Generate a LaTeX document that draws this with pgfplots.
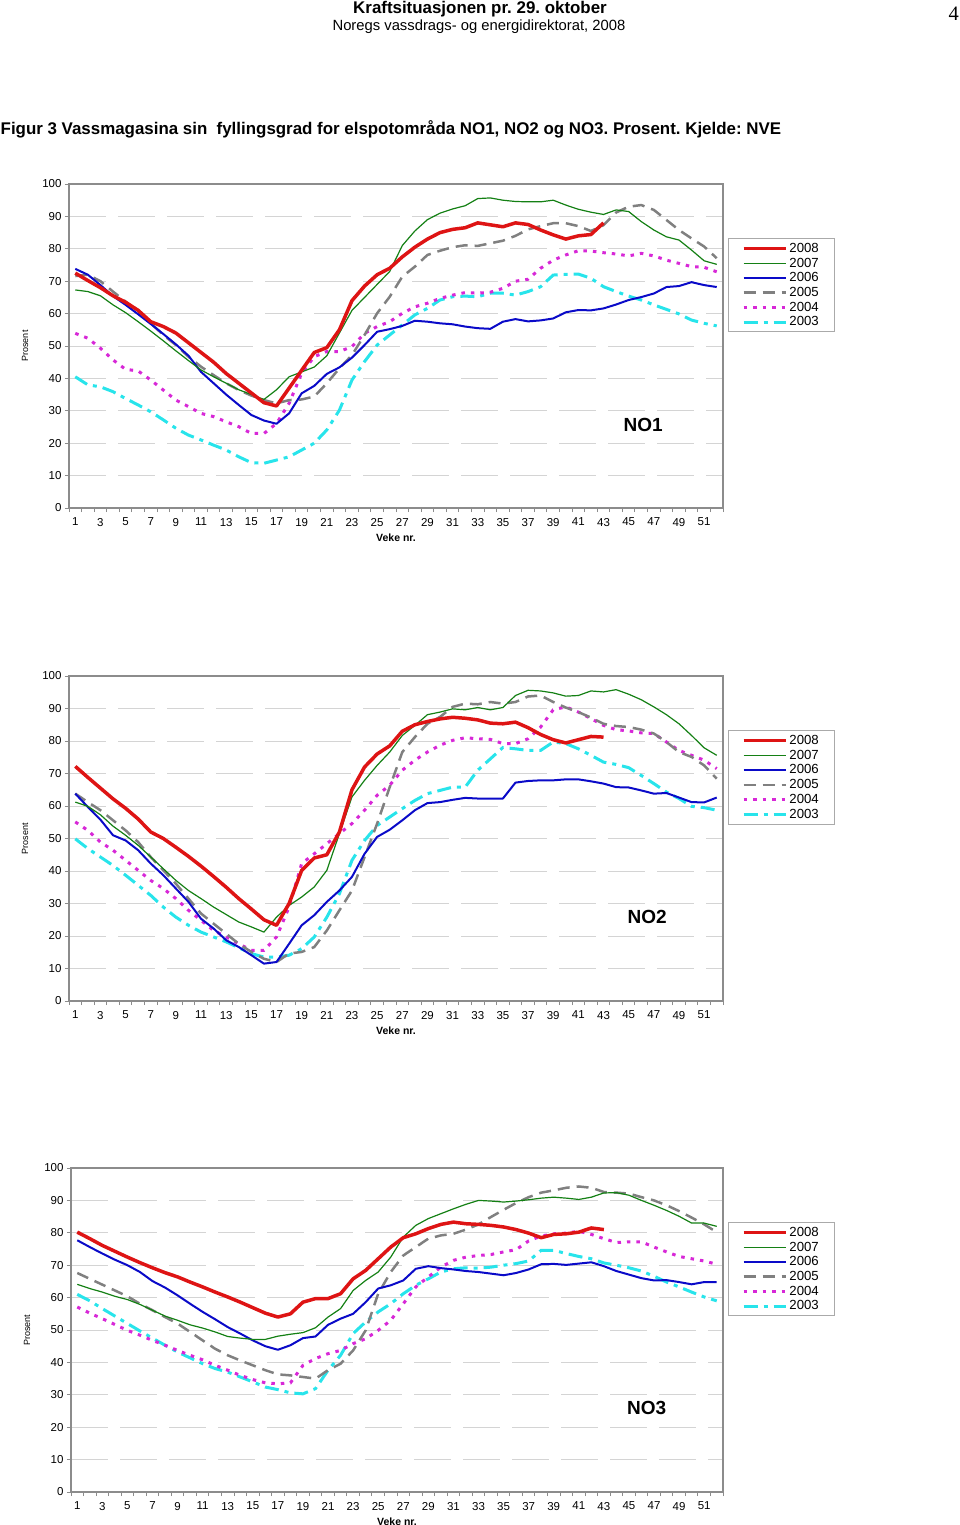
\documentclass[border=0pt]{standalone}
\usepackage{fontspec}
\setmainfont{Liberation Sans}
\newfontfamily\seriffont{Liberation Serif}
\usepackage{pgfplots}
\usepackage{pgfplotstable}
\pgfplotsset{compat=1.18}

\definecolor{c08}{RGB}{222,20,20}
\definecolor{c07}{RGB}{20,128,20}
\definecolor{c06}{RGB}{10,10,200}
\definecolor{c05}{RGB}{128,128,128}
\definecolor{c04}{RGB}{215,40,215}
\definecolor{c03}{RGB}{40,228,235}
\definecolor{axgray}{RGB}{140,140,140}
\definecolor{gridgray}{RGB}{212,212,212}
\definecolor{leggray}{RGB}{170,170,170}

\pgfplotstableread{
w y08 y07 y06 y05 y04 y03
1 72.5 67.3 73.8 71.6 53.9 40.5
2 70.2 66.8 72.0 72.0 52.4 38.0
3 68.0 65.5 68.8 70.0 49.3 37.4
4 65.5 62.7 65.4 66.8 45.7 35.9
5 63.5 60.3 62.7 63.7 42.8 33.8
6 61.0 57.5 59.8 60.6 42.3 31.8
7 57.5 54.6 56.8 57.0 39.5 29.7
8 56.0 51.6 53.7 53.4 36.4 27.2
9 54.0 48.5 50.5 50.3 33.3 24.6
10 51.0 45.5 47.0 46.7 31.3 22.5
11 48.0 42.6 42.0 43.6 29.2 21.0
12 45.0 40.5 38.5 41.0 28.2 19.4
13 41.5 38.5 35.0 38.5 26.6 17.9
14 38.5 36.5 31.8 36.4 25.1 15.8
15 35.5 35.0 28.7 34.7 23.0 14.0
16 32.5 33.5 27.0 33.3 23.0 13.8
17 31.5 36.5 26.0 32.3 26.1 14.8
18 37.0 40.5 29.2 33.3 32.3 15.8
19 42.5 42.0 35.4 33.5 41.6 17.9
20 48.0 43.5 37.7 34.4 46.7 20.0
21 49.5 47.0 41.4 38.5 48.3 24.1
22 55.0 54.0 43.4 43.1 48.3 30.2
23 64.0 61.0 46.4 47.2 49.8 39.5
24 68.5 65.0 50.3 53.4 53.9 45.2
25 72.0 69.0 54.4 60.1 56.0 50.3
26 74.0 73.0 55.2 65.2 57.5 53.4
27 77.5 81.0 56.2 71.4 60.1 56.5
28 80.5 85.5 57.8 74.5 62.1 59.6
29 83.0 89.0 57.5 78.1 63.2 61.6
30 85.0 91.0 57.0 79.4 64.7 64.2
31 86.0 92.3 56.7 80.5 65.7 65.2
32 86.5 93.3 56.0 81.1 66.5 65.4
33 88.0 95.5 55.5 80.9 66.3 65.2
34 87.4 95.7 55.3 81.7 66.6 66.3
35 86.8 95.0 57.5 82.5 67.8 66.3
36 88.0 94.6 58.3 84.0 70.0 65.7
37 87.5 94.5 57.6 86.0 70.6 66.8
38 85.8 94.5 57.9 87.0 74.0 68.3
39 84.3 95.0 58.5 87.9 76.5 71.9
40 83.0 93.5 60.4 87.9 78.1 72.1
41 84.0 92.2 61.1 87.0 79.4 72.2
42 84.4 91.3 61.0 85.5 79.3 70.9
43 88.0 90.6 61.6 87.3 78.8 68.3
44 nan 92.0 62.8 91.2 78.4 66.8
45 nan 91.5 64.2 93.0 77.8 65.4
46 nan 88.4 65.1 93.5 78.6 64.2
47 nan 85.8 66.2 92.0 77.8 62.7
48 nan 83.7 68.2 88.9 76.5 61.3
49 nan 82.7 68.5 85.8 75.5 59.9
50 nan 79.6 69.7 83.2 74.5 58.0
51 nan 76.3 68.8 80.7 74.3 57.0
52 nan 75.2 68.2 77.1 72.9 56.2
}\tabNOone

\pgfplotstableread{
w y08 y07 y06 y05 y04 y03
1 72.2 61.2 63.8 63.8 55.1 49.9
2 68.8 59.9 59.7 61.2 52.5 46.9
3 65.5 57.3 55.8 58.7 48.9 44.3
4 62.2 53.8 51.0 55.6 46.4 41.7
5 59.3 51.0 49.4 52.5 43.3 38.7
6 56.0 47.9 46.4 48.9 40.2 35.6
7 52.0 44.3 42.3 44.3 37.1 32.5
8 50.0 40.7 38.7 40.2 34.6 28.9
9 47.3 37.1 34.6 36.1 31.5 25.8
10 44.5 34.0 30.5 31.5 27.9 23.3
11 41.5 31.5 25.3 26.9 24.8 21.2
12 38.3 28.9 22.3 23.8 21.7 19.7
13 35.0 26.6 18.7 20.7 19.7 18.2
14 31.5 24.3 16.6 17.6 17.6 16.4
15 28.3 22.8 14.1 15.1 15.6 14.6
16 25.0 21.2 11.5 13.0 15.6 13.5
17 23.3 25.8 12.0 12.0 19.7 13.5
18 30.0 29.4 17.6 14.6 28.9 14.1
19 40.2 32.0 23.3 15.1 42.3 16.1
20 44.0 35.1 26.4 16.6 45.3 19.7
21 45.0 40.2 30.5 21.7 48.4 25.8
22 52.0 51.5 34.0 27.9 51.5 33.0
23 65.0 62.8 38.2 34.0 54.6 43.3
24 72.0 67.9 45.3 44.3 58.7 49.4
25 76.0 72.5 50.5 54.6 63.3 54.0
26 78.5 76.6 52.7 65.8 66.4 56.6
27 83.0 81.7 55.6 76.6 71.0 59.2
28 85.0 84.8 58.7 81.2 74.1 61.7
29 86.0 88.1 60.9 85.3 76.6 63.8
30 86.8 88.9 61.2 87.4 78.7 64.8
31 87.3 89.9 61.9 90.5 80.2 65.8
32 87.0 89.6 62.5 91.5 81.0 65.8
33 86.5 90.3 62.3 91.3 80.7 71.0
34 85.5 89.6 62.3 92.0 80.5 74.5
35 85.3 90.3 62.3 91.5 79.2 78.0
36 85.8 94.0 67.2 92.0 79.2 77.6
37 84.1 95.6 67.7 93.7 80.7 77.1
38 82.0 95.4 67.9 94.0 84.3 77.1
39 80.4 94.8 67.9 92.0 89.6 79.7
40 79.4 93.8 68.2 90.3 90.5 79.2
41 80.4 94.0 68.2 88.9 88.9 77.6
42 81.4 95.4 67.6 87.2 86.9 75.6
43 81.2 95.1 66.9 85.3 84.8 73.5
44 nan 95.8 65.8 84.6 83.5 72.8
45 nan 94.4 65.7 84.3 83.1 71.8
46 nan 92.7 64.8 83.5 82.5 69.4
47 nan 90.5 63.8 82.3 82.3 66.9
48 nan 88.1 64.0 79.7 79.7 64.3
49 nan 85.3 62.6 76.6 77.1 62.3
50 nan 81.7 61.2 75.1 75.6 59.9
51 nan 77.9 61.1 72.5 74.1 59.5
52 nan 75.6 62.6 68.4 71.5 58.7
}\tabNOtwo

\pgfplotstableread{
w y08 y07 y06 y05 y04 y03
1 80.2 64.1 77.7 67.6 57.1 61.0
2 78.2 62.8 75.6 65.8 55.2 59.0
3 76.1 61.7 73.6 64.0 53.5 56.6
4 74.3 60.4 71.7 62.2 51.7 54.3
5 72.5 59.4 70.0 60.4 49.9 52.0
6 70.8 57.9 67.9 58.1 48.4 49.7
7 69.2 56.1 65.1 56.1 46.8 47.5
8 67.7 54.3 63.1 54.0 45.3 45.3
9 66.4 53.0 60.7 52.0 43.7 43.2
10 64.8 51.6 58.1 49.4 42.2 41.4
11 63.3 50.6 55.6 46.8 40.8 39.6
12 61.7 49.4 53.3 44.2 39.1 38.1
13 60.2 48.0 50.9 42.2 37.6 37.0
14 58.6 47.5 48.9 40.6 36.0 35.5
15 56.9 47.1 46.8 39.1 34.7 34.0
16 55.2 47.1 45.0 37.6 33.7 32.4
17 54.0 48.1 43.9 36.3 33.4 31.6
18 55.0 48.7 45.3 36.0 33.7 30.6
19 58.6 49.2 47.5 35.5 39.1 30.3
20 59.7 50.7 48.0 35.0 41.2 31.9
21 59.7 54.0 51.6 37.6 42.7 37.6
22 61.2 56.6 53.5 39.6 43.7 42.2
23 65.8 62.2 55.0 43.7 45.8 48.9
24 68.4 65.3 58.6 49.9 47.3 52.5
25 72.0 67.9 62.8 61.2 49.9 55.6
26 75.6 72.5 63.8 67.9 53.0 58.1
27 78.5 78.7 65.3 73.0 58.1 61.2
28 79.7 82.3 68.9 75.6 63.3 63.8
29 81.3 84.4 69.7 78.2 66.4 65.8
30 82.6 85.9 69.1 79.2 69.4 67.9
31 83.3 87.4 68.7 79.7 71.5 68.9
32 82.8 88.8 68.2 81.0 72.5 69.2
33 82.6 90.0 67.9 82.6 73.0 69.1
34 82.3 89.8 67.4 84.9 73.3 69.4
35 81.8 89.5 66.9 87.1 74.1 70.0
36 81.0 89.8 67.6 89.2 74.8 70.5
37 79.9 90.2 68.7 91.0 77.5 71.3
38 78.5 90.7 70.3 92.4 79.0 74.6
39 79.5 91.0 70.4 93.1 79.7 74.6
40 79.7 90.7 70.1 93.9 79.9 73.6
41 80.2 90.3 70.5 94.3 80.5 72.7
42 81.5 91.0 70.9 93.9 79.5 72.0
43 81.0 92.3 69.7 92.6 78.2 70.7
44 nan 92.4 68.2 92.4 77.0 70.0
45 nan 91.6 67.1 92.1 77.2 69.2
46 nan 90.0 66.0 91.0 77.2 68.2
47 nan 88.5 65.3 90.0 75.6 66.6
48 nan 86.9 65.4 88.5 74.1 64.8
49 nan 85.1 64.8 86.7 72.7 63.3
50 nan 83.0 64.1 84.7 72.0 61.7
51 nan 83.0 64.8 82.6 71.3 60.2
52 nan 82.0 64.8 80.2 70.3 59.0
}\tabNOthree

\pgfplotsset{
  s08/.style={draw=c08, line width=3.5pt, line join=round},
  s07/.style={draw=c07, line width=1.2pt, line join=round},
  s06/.style={draw=c06, line width=2pt, line join=round},
  s05/.style={draw=c05, line width=2.5pt, dash pattern=on 12pt off 7pt},
  s04/.style={draw=c04, line width=3pt, dash pattern=on 3.5pt off 6pt},
  s03/.style={draw=c03, line width=3pt, dash pattern=on 14pt off 6pt on 4pt off 6pt},
  nvechart/.style={
    scale only axis, width=654pt, height=324pt,
    xmin=0.5, xmax=52.5, ymin=0, ymax=100,
    no markers,
    xtick={0.5,1.5,...,52.5}, xticklabels={},
    extra x ticks={1,3,...,51},
    extra x tick style={major tick length=0pt, grid=none, xticklabel style={yshift=-6.5pt}},
    ytick={0,10,...,100},
    xtick pos=left, ytick pos=left,
    tick align=outside,
    major tick length=4pt,
    ymajorgrids=true,
    grid style={draw=gridgray, line width=1pt, dash pattern=on 37pt off 12pt},
    axis line style={draw=axgray, line width=1.3pt},
    tick style={draw=axgray, line width=1pt},
    tick label style={font=\fontsize{11.5}{12}\selectfont},
    /pgf/number format/assume math mode=true,
    xlabel={Veke nr.}, ylabel={Prosent},
    xlabel style={at={(axis description cs:0.5,-0.0926)}, anchor=center, font=\bfseries\fontsize{10.5}{12}\selectfont},
    ylabel style={at={(axis description cs:-0.0673,0.5)}, anchor=center, font=\fontsize{9}{10}\selectfont},
    reverse legend,
    legend style={at={(axis description cs:1.0076,0.833)}, anchor=north west,
      draw=leggray, line width=1pt, fill=white,
      font=\fontsize{13.2}{14}\selectfont,
      inner xsep=13.5pt, inner ysep=2.5pt, row sep=0pt, column sep=0pt,
      cells={anchor=west}},
    legend image code/.code={\draw[##1] (0pt,0pt) -- (42pt,0pt);},
  }
}

\begin{document}
\frenchspacing
\begin{tikzpicture}
\path[use as bounding box] (0pt,0pt) rectangle (960pt,-1525pt);

\node[anchor=base, inner sep=0pt] at (480pt,-13.2pt) {\bfseries\fontsize{16.9}{18}\selectfont Kraftsituasjonen pr. 29. oktober};
\node[anchor=base, inner sep=0pt] at (479pt,-31pt) {\fontsize{14.8}{16}\selectfont Noregs vassdrags- og energidirektorat, 2008};
\node[anchor=base east, inner sep=0pt] at (959pt,-20.7pt) {\seriffont\fontsize{20.5}{22}\selectfont 4};
\node[anchor=base west, inner sep=0pt] at (0.5pt,-135pt) {\bfseries\fontsize{16.9}{18}\selectfont Figur 3 Vassmagasina sin\ \ fyllingsgrad for elspotområda NO1, NO2 og NO3. Prosent. Kjelde: NVE};

% NO1
\begin{axis}[nvechart, at={(69pt,-508pt)}, anchor=south west]
\addplot[s03] table[x=w,y=y03] {\tabNOone}; \addlegendentry{2003}
\addplot[s04] table[x=w,y=y04] {\tabNOone}; \addlegendentry{2004}
\addplot[s05] table[x=w,y=y05] {\tabNOone}; \addlegendentry{2005}
\addplot[s06] table[x=w,y=y06] {\tabNOone}; \addlegendentry{2006}
\addplot[s07] table[x=w,y=y07] {\tabNOone}; \addlegendentry{2007}
\addplot[s08] table[x=w,y=y08] {\tabNOone}; \addlegendentry{2008}
\node[font=\bfseries\fontsize{19}{20}\selectfont] at (axis description cs:0.878,0.256) {NO1};
\end{axis}

% NO2
\begin{axis}[nvechart, height=325pt, at={(69pt,-1001pt)}, anchor=south west]
\addplot[s03] table[x=w,y=y03] {\tabNOtwo}; \addlegendentry{2003}
\addplot[s04] table[x=w,y=y04] {\tabNOtwo}; \addlegendentry{2004}
\addplot[s05] table[x=w,y=y05] {\tabNOtwo}; \addlegendentry{2005}
\addplot[s06] table[x=w,y=y06] {\tabNOtwo}; \addlegendentry{2006}
\addplot[s07] table[x=w,y=y07] {\tabNOtwo}; \addlegendentry{2007}
\addplot[s08] table[x=w,y=y08] {\tabNOtwo}; \addlegendentry{2008}
\node[font=\bfseries\fontsize{19}{20}\selectfont] at (axis description cs:0.884,0.258) {NO2};
\end{axis}

% NO3
\begin{axis}[nvechart, width=652pt, at={(71pt,-1492pt)}, anchor=south west]
\addplot[s03] table[x=w,y=y03] {\tabNOthree}; \addlegendentry{2003}
\addplot[s04] table[x=w,y=y04] {\tabNOthree}; \addlegendentry{2004}
\addplot[s05] table[x=w,y=y05] {\tabNOthree}; \addlegendentry{2005}
\addplot[s06] table[x=w,y=y06] {\tabNOthree}; \addlegendentry{2006}
\addplot[s07] table[x=w,y=y07] {\tabNOthree}; \addlegendentry{2007}
\addplot[s08] table[x=w,y=y08] {\tabNOthree}; \addlegendentry{2008}
\node[font=\bfseries\fontsize{19}{20}\selectfont] at (axis description cs:0.883,0.259) {NO3};
\end{axis}
\end{tikzpicture}
\end{document}
